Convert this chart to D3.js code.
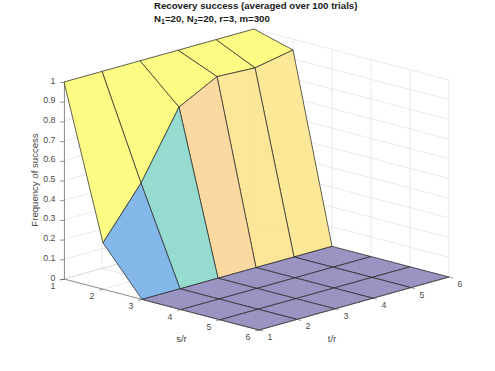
<!DOCTYPE html>
<html>
<head>
<meta charset="utf-8">
<script src="https://cdn.jsdelivr.net/npm/d3@7"></script>
<style>
    html, body { margin: 0; padding: 0; background: #fff; }
    text { font-family: "Liberation Sans", Arial, sans-serif; }
</style>
</head>
<body>
<svg id="chart" width="495" height="371"></svg>
<script>
// Data
const sTicks = [1, 2, 3, 4, 5, 6];
const tTicks = [1, 2, 3, 4, 5, 6];
const zTicks = [0, 0.1, 0.2, 0.3, 0.4, 0.5, 0.6, 0.7, 0.8, 0.9, 1];
// one row per s/r, one value per t/r
const s1Values = [1, 1, 1, 1, 1, 1];
const s2Values = [0.235, 0.485, 0.817, 0.918, 0.908, 0.945];
const s3Values = [0, 0, 0, 0, 0, 0];
const s4Values = [0, 0, 0, 0, 0, 0];
const s5Values = [0, 0, 0, 0, 0, 0];
const s6Values = [0, 0, 0, 0, 0, 0];
const rows = [s1Values, s2Values, s3Values, s4Values, s5Values, s6Values];

const colorDomain = [0, 0.235, 0.485, 0.817, 0.908, 0.918, 1];
const colorRange = ["#352a87", "#0b71d5", "#2db7a1", "#f7b341", "#f9d331", "#f9cd31", "#f9f90b"];

const svg = d3.select("#chart");

// Oblique projection, each data axis adds its own screen offset
const xFromS = d3.scaleLinear().domain([1, 6]).range([0, 195]);
const yFromS = d3.scaleLinear().domain([1, 6]).range([0, 51]);
const xFromT = d3.scaleLinear().domain([1, 6]).range([0, 190]);
const yFromT = d3.scaleLinear().domain([1, 6]).range([0, -53]);
const zScale = d3.scaleLinear().domain([0, 1]).range([279, 82]);
const originX = 64;

const px = (s, t) => originX + xFromS(s) + xFromT(t);
const py = (s, t, z) => zScale(z) + yFromS(s) + yFromT(t);
const pathOf = pts => "M" + pts.map(p => p[0].toFixed(1) + "," + p[1].toFixed(1)).join("L");

const color = d3.scaleLinear().domain(colorDomain).range(colorRange);

// Grid on the floor and the two back walls
const grid = svg.append("g")
    .attr("fill", "none")
    .attr("stroke", "#262626")
    .attr("stroke-opacity", 0.12)
    .attr("stroke-width", 0.8);

sTicks.forEach(s => {
    grid.append("path").attr("d", pathOf([[px(s, 1), py(s, 1, 0)], [px(s, 6), py(s, 6, 0)]]));
    grid.append("path").attr("d", pathOf([[px(s, 6), py(s, 6, 0)], [px(s, 6), py(s, 6, 1)]]));
});
tTicks.forEach(t => {
    grid.append("path").attr("d", pathOf([[px(1, t), py(1, t, 0)], [px(6, t), py(6, t, 0)]]));
    grid.append("path").attr("d", pathOf([[px(1, t), py(1, t, 0)], [px(1, t), py(1, t, 1)]]));
});
zTicks.forEach(z => {
    grid.append("path").attr("d", pathOf([[px(1, 1), py(1, 1, z)], [px(1, 6), py(1, 6, z)]]));
    grid.append("path").attr("d", pathOf([[px(1, 6), py(1, 6, z)], [px(6, 6), py(6, 6, z)]]));
});

// Surface faces, far ones first
const faces = [];
d3.range(5).forEach(i => {
    d3.range(5).forEach(j => {
        faces.push({ i, j, depth: i - j });
    });
});
faces.sort((a, b) => d3.ascending(a.depth, b.depth));

const faceGroups = svg.append("g").selectAll("g")
    .data(faces)
    .enter().append("g");

const facePath = d => {
    const corners = [[d.i, d.j], [d.i, d.j + 1], [d.i + 1, d.j + 1], [d.i + 1, d.j]];
    return pathOf(corners.map(c => {
        const s = sTicks[c[0]], t = tTicks[c[1]];
        return [px(s, t), py(s, t, rows[c[0]][c[1]])];
    })) + "Z";
};

// white under each face so the grid only just shows through
faceGroups.append("path")
    .attr("d", facePath)
    .attr("fill", "#fff")
    .attr("fill-opacity", 0.9);

faceGroups.append("path")
    .attr("d", facePath)
    .attr("fill", d => color(rows[d.i][d.j]))
    .attr("fill-opacity", 0.5)
    .attr("stroke", "#1f1f1f")
    .attr("stroke-width", 0.7)
    .attr("stroke-linejoin", "round");

// Axes
const axisColor = "#505050";
const labelColor = "#4a4a4a";
const tickFont = 8.8;
const labelFont = 9.6;

const zAxis = svg.append("g")
    .attr("transform", `translate(${originX},0)`)
    .call(d3.axisLeft(zScale).tickValues(zTicks).tickSize(4).tickSizeOuter(0).tickFormat(d3.format("~g")));
zAxis.select(".domain").attr("stroke", axisColor).attr("stroke-width", 0.6);
zAxis.selectAll(".tick line").attr("stroke", axisColor).attr("stroke-width", 0.6);
zAxis.selectAll(".tick text")
    .attr("x", -8.5)
    .attr("dy", "0.12em")
    .attr("font-family", null)
    .attr("font-size", tickFont)
    .attr("fill", labelColor);

const obliqueAxes = svg.append("g")
    .attr("fill", "none")
    .attr("stroke", axisColor)
    .attr("stroke-width", 0.6);
obliqueAxes.append("path").attr("d", pathOf([[px(1, 1), py(1, 1, 0)], [px(6, 1), py(6, 1, 0)]]));
obliqueAxes.append("path").attr("d", pathOf([[px(6, 1), py(6, 1, 0)], [px(6, 6), py(6, 6, 0)]]));

const tickLen = 0.1;
sTicks.forEach(s => {
    obliqueAxes.append("path").attr("d", pathOf([[px(s, 1), py(s, 1, 0)], [px(s, 1 - tickLen), py(s, 1 - tickLen, 0)]]));
});
tTicks.forEach(t => {
    obliqueAxes.append("path").attr("d", pathOf([[px(6, t), py(6, t, 0)], [px(6 + tickLen, t), py(6 + tickLen, t, 0)]]));
});

svg.append("g").selectAll("text")
    .data(sTicks)
    .enter().append("text")
    .attr("x", d => px(d, 1) - 11)
    .attr("y", d => py(d, 1, 0) + 10)
    .attr("text-anchor", "middle")
    .attr("font-size", tickFont)
    .attr("fill", labelColor)
    .text(d => d);

svg.append("g").selectAll("text")
    .data(tTicks)
    .enter().append("text")
    .attr("x", d => px(6, d) + 11)
    .attr("y", d => py(6, d, 0) + 10)
    .attr("text-anchor", "middle")
    .attr("font-size", tickFont)
    .attr("fill", labelColor)
    .text(d => d);

// Axis titles
svg.append("text").attr("x", 181.5).attr("y", 341.5).attr("text-anchor", "middle")
    .attr("font-size", labelFont).attr("fill", labelColor).text("s/r");
svg.append("text").attr("x", 332).attr("y", 341.5).attr("text-anchor", "middle")
    .attr("font-size", labelFont).attr("fill", labelColor).text("t/r");
svg.append("text")
    .attr("transform", "translate(38,180) rotate(-90)")
    .attr("text-anchor", "middle")
    .attr("font-size", labelFont)
    .attr("fill", labelColor)
    .text("Frequency of success");

// Title
const title = svg.append("g")
    .attr("font-size", 9.67)
    .attr("font-weight", "bold")
    .attr("fill", "#1a1a1a");
title.append("text").attr("x", 154).attr("y", 9).text("Recovery success (averaged over 100 trials)");
const line2 = title.append("text").attr("x", 154).attr("y", 22);
line2.append("tspan").text("N");
line2.append("tspan").attr("font-size", 7).attr("dy", 2).text("1");
line2.append("tspan").attr("dy", -2).text("=20, N");
line2.append("tspan").attr("font-size", 7).attr("dy", 2).text("2");
line2.append("tspan").attr("dy", -2).text("=20, r=3, m=300");
</script>
</body>
</html>
